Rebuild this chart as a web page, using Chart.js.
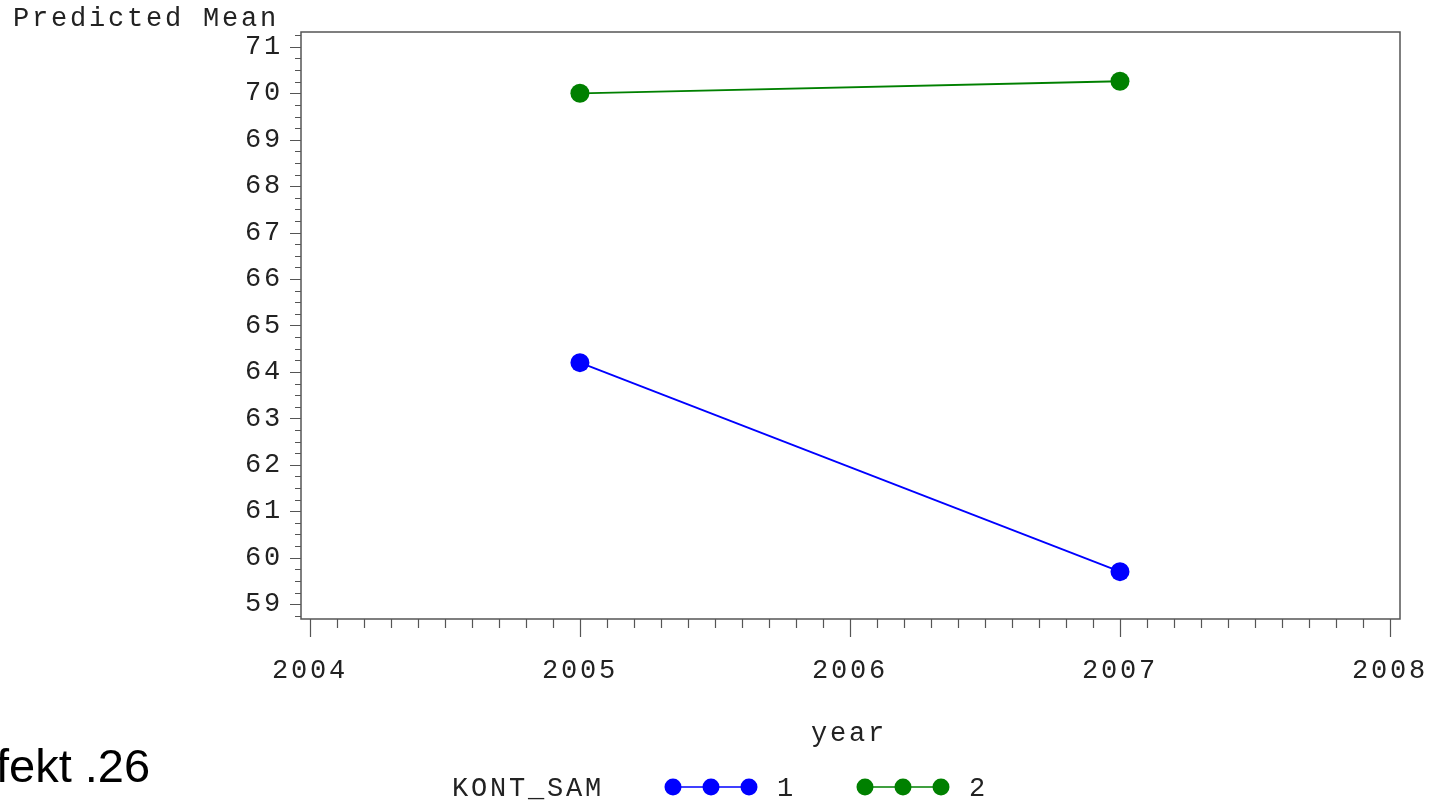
<!DOCTYPE html>
<html lang="de">
<head>
    <meta charset="UTF-8">
    <title>Predicted Mean - KONT_SAM</title>
    <script src="https://cdn.jsdelivr.net/npm/chart.js"></script>
    <style>
        body {
            margin: 0;
            background: white;
            overflow: hidden;
        }

        .wrap {
            position: relative;
            width: 1433px;
            height: 801px;
        }

        .slide_text {
            position: absolute;
            left: -4px;
            top: 738px;
            font-family: "Liberation Sans", Arial, sans-serif;
            font-size: 47px;
            color: black;
            white-space: nowrap;
        }
    </style>
</head>

<body>
    <div class="wrap">
        <canvas id="meanChart" width="1433" height="801"></canvas>
        <div class="slide_text">fekt .26</div>
    </div>

<script>
    // data
    let years = [2005, 2007];
    let groups = ["1", "2"];
    let group1 = [64.2, 59.7];
    let group2 = [70.0, 70.26];
    let colors = ["#0000ff", "#008000"];

    let yMin = 58.68, yMax = 71.32;
    let xMin = 2003.967, xMax = 2008.037;

    const monoFont = '"Liberation Mono", "Courier New", monospace';
    const fontSize = 27;
    const spacing = "2.8px";
    const textColor = "#222";
    const axisColor = "#555";

    // SAS-like spaced out lettering
    const spacingPlugin = {
        id: "spacing",
        beforeInit(chart) { chart.ctx.letterSpacing = spacing; },
        beforeDraw(chart) { chart.ctx.letterSpacing = spacing; }
    };

    // frame, tick marks, titles and legend
    const decorPlugin = {
        id: "decor",
        afterDraw(chart) {
            const ctx = chart.ctx;
            const area = chart.chartArea;
            const xs = chart.scales.x;
            const ys = chart.scales.y;
            ctx.save();

            // frame
            ctx.strokeStyle = axisColor;
            ctx.lineWidth = 1.5;
            ctx.strokeRect(area.left, area.top, area.right - area.left, area.bottom - area.top);

            // y ticks (major every 1, minor every 0.25)
            ctx.lineWidth = 1.2;
            ctx.beginPath();
            for (let i = Math.ceil(yMin * 4); i <= yMax * 4; i++) {
                let y = Math.round(ys.getPixelForValue(i / 4)) + 0.5;
                let major = i % 4 === 0;
                ctx.moveTo(area.left - (major ? 11 : 6), y);
                ctx.lineTo(area.left, y);
            }
            // x ticks (major every year, minor every 0.1)
            for (let i = Math.ceil(xMin * 10); i <= xMax * 10; i++) {
                let x = Math.round(xs.getPixelForValue(i / 10)) + 0.5;
                let major = i % 10 === 0;
                ctx.moveTo(x, area.bottom);
                ctx.lineTo(x, area.bottom + (major ? 18 : 9));
            }
            ctx.stroke();

            // titles
            ctx.fillStyle = textColor;
            ctx.font = fontSize + "px " + monoFont;
            ctx.textBaseline = "alphabetic";
            ctx.textAlign = "left";
            ctx.fillText("Predicted Mean", 13, 26);
            ctx.fillText("year", 811, 741);

            // legend
            ctx.fillText("KONT_SAM", 452, 796);
            let starts = [673, 865];
            chart.data.datasets.forEach((ds, i) => {
                let x0 = starts[i];
                let y0 = 787;
                ctx.strokeStyle = ds.borderColor;
                ctx.lineWidth = 1.5;
                ctx.beginPath();
                ctx.moveTo(x0, y0);
                ctx.lineTo(x0 + 76, y0);
                ctx.stroke();
                ctx.fillStyle = ds.backgroundColor;
                for (let k = 0; k < 3; k++) {
                    ctx.beginPath();
                    ctx.arc(x0 + k * 38, y0, 8.5, 0, Math.PI * 2);
                    ctx.fill();
                }
                ctx.fillStyle = textColor;
                ctx.fillText(ds.label, x0 + 104, 796);
            });

            ctx.restore();
        }
    };

    let ctx = document.getElementById("meanChart").getContext("2d");
    let meanChart = new Chart(ctx, {
        type: "line",
        data: {
            datasets: [{
                label: groups[0],
                data: years.map((y, i) => ({ x: y, y: group1[i] })),
                borderColor: colors[0],
                backgroundColor: colors[0],
                borderWidth: 1.8,
                pointRadius: 9.5,
                pointHoverRadius: 9.5,
                pointBorderWidth: 0
            }, {
                label: groups[1],
                data: years.map((y, i) => ({ x: y, y: group2[i] })),
                borderColor: colors[1],
                backgroundColor: colors[1],
                borderWidth: 1.8,
                pointRadius: 9.5,
                pointHoverRadius: 9.5,
                pointBorderWidth: 0
            }]
        },
        options: {
            responsive: false,
            animation: false,
            layout: {
                padding: { left: 0, top: 32, right: 33, bottom: 0 }
            },
            plugins: {
                legend: { display: false },
                tooltip: { enabled: false }
            },
            scales: {
                x: {
                    type: "linear",
                    min: xMin,
                    max: xMax,
                    afterFit: (scale) => {
                        scale.height = 182;
                        scale.paddingLeft = 0;
                        scale.paddingRight = 0;
                    },
                    grid: { display: false, drawTicks: false },
                    border: { display: false },
                    ticks: {
                        stepSize: 1,
                        includeBounds: false,
                        maxRotation: 0,
                        padding: 36,
                        color: textColor,
                        font: { family: monoFont, size: fontSize },
                        callback: (v) => String(Math.round(v))
                    }
                },
                y: {
                    min: yMin,
                    max: yMax,
                    afterFit: (scale) => {
                        scale.width = 301;
                        scale.paddingTop = 0;
                        scale.paddingBottom = 0;
                    },
                    grid: { display: false, drawTicks: false },
                    border: { display: false },
                    ticks: {
                        stepSize: 1,
                        includeBounds: false,
                        padding: 18,
                        color: textColor,
                        font: { family: monoFont, size: fontSize },
                        callback: (v) => String(Math.round(v))
                    }
                }
            }
        },
        plugins: [spacingPlugin, decorPlugin]
    });
</script>
</body>
</html>
